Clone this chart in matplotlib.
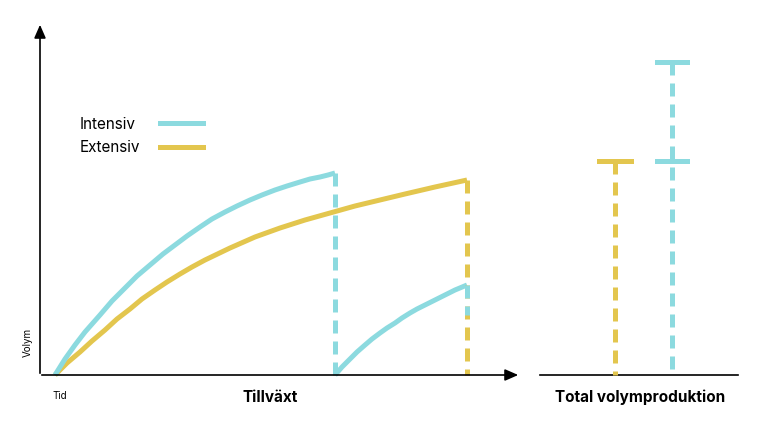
import matplotlib
matplotlib.use("Agg")
import matplotlib.pyplot as plt

# data (time, volume)
int_t = [0, 10, 20, 30, 45, 57, 70, 82, 95, 108, 120, 132, 145, 157, 170, 182, 195, 207, 220, 232, 245, 255, 265, 273, 280]
int_v = [0, 16, 30, 43, 60, 74, 87, 99, 110, 121, 130, 139, 148, 156, 163, 169, 175, 180, 185, 189, 193, 196, 198, 200, 202]
ext_t = [0, 12, 25, 37, 50, 62, 75, 87, 100, 112, 125, 137, 150, 175, 200, 225, 250, 275, 300, 325, 350, 380, 412]
ext_v = [0, 12, 23, 34, 45, 56, 66, 76, 85, 93, 101, 108, 115, 127, 138, 147, 155, 162, 169, 175, 181, 188, 195]
int2_t = [280, 287, 295, 302, 310, 317, 325, 332, 340, 347, 355, 362, 370, 380, 390, 400, 412]
int2_v = [0, 8, 16, 23, 30, 36, 42, 47, 52, 57, 62, 66, 70, 75, 80, 85, 90]
total_ext = 214
total_int = [214, 313]

CY = "#8CDADF"
YE = "#E3C64E"
X0, Y0 = 55, 375

def px(t): return [X0 + a for a in t]
def py(v): return [Y0 - a for a in v]

fig = plt.figure(figsize=(7.67, 4.28), dpi=100)
ax = fig.add_axes([0, 0, 1, 1])
ax.set_xlim(0, 767); ax.set_ylim(428, 0); ax.axis("off")

ax.annotate("", xy=(40, 22), xytext=(40, 376), arrowprops=dict(arrowstyle="-|>,head_length=0.8,head_width=0.35", color="black", lw=1.2))
ax.annotate("", xy=(521, 375), xytext=(39, 375), arrowprops=dict(arrowstyle="-|>,head_length=0.8,head_width=0.35", color="black", lw=1.2))
ax.plot([540, 738], [375, 375], color="black", lw=1.2)

lw = 3.6
dash = (0, (2.6, 1.6))
kw = dict(lw=lw, solid_capstyle="butt", solid_joinstyle="round")
ax.plot(px(ext_t), py(ext_v), color=YE, **kw)
ax.plot(px(int_t), py(int_v), color=CY, **kw)
ax.plot(px(int2_t), py(int2_v), color=CY, **kw)
ax.plot([X0 + int_t[-1]] * 2, py([int_v[-1], 0]), color=CY, lw=lw, ls=dash)
ax.plot([X0 + ext_t[-1]] * 2, py([ext_v[-1], 0]), color=YE, lw=lw, ls=dash)
ax.plot([X0 + int2_t[-1]] * 2, py([int2_v[-1], int2_v[-1] - 30]), color=CY, lw=lw, ls=dash)

xe, xi = 615, 672
ax.plot([xe, xe], py([total_ext, 0]), color=YE, lw=lw, ls=dash)
ax.plot([xe - 16, xe + 16], py([total_ext] * 2), color=YE, lw=lw)
ax.plot([xi, xi], py([total_int[1], 0]), color=CY, lw=lw, ls=dash)
for v in total_int:
    ax.plot([xi - 15, xi + 15], py([v, v]), color=CY, lw=lw)

ax.text(80, 124, "Intensiv", fontsize=11, va="center", family="Inter")
ax.plot([160, 203], [123, 123], color=CY, lw=lw)
ax.text(80, 148, "Extensiv", fontsize=11, va="center", family="Inter")
ax.plot([160, 203], [147, 147], color=YE, lw=lw)

ax.text(28, 342, "Volym", fontsize=7, rotation=90, ha="center", va="center", family="Inter")
ax.text(52, 396, "Tid", fontsize=7, ha="left", va="center", family="Inter")
ax.text(270, 397, "Tillväxt", fontsize=11, fontweight="bold", ha="center", va="center", family="Inter")
ax.text(640, 397, "Total volymproduktion", fontsize=11, fontweight="bold", ha="center", va="center", family="Inter")

fig.savefig("out.png", dpi=100)
